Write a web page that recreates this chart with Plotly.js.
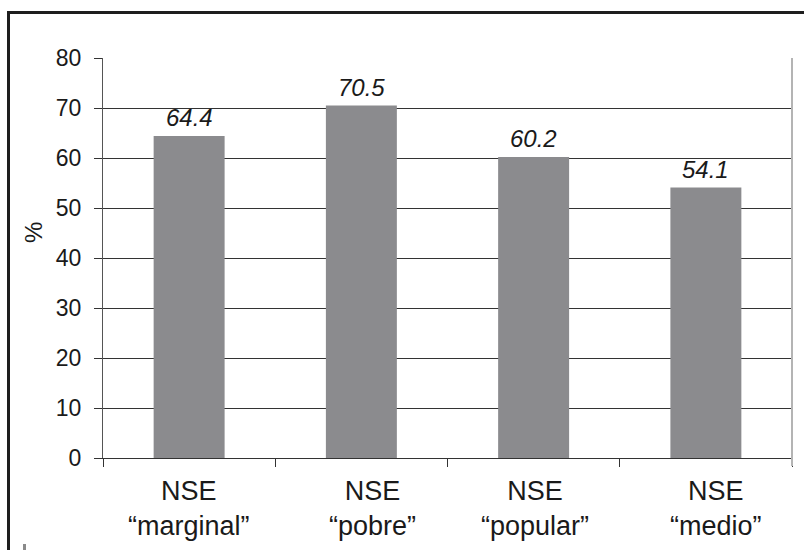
<!DOCTYPE html>
<html>
<head>
<meta charset="utf-8">
<script src="https://cdn.plot.ly/plotly-3.0.1.min.js"></script>
<style>
  html, body { margin: 0; padding: 0; background: #ffffff; }
  #wrap { position: relative; width: 804px; height: 550px; overflow: hidden; }
  #frame { position: absolute; left: 7px; top: 11px; width: 820px; height: 560px;
           border-left: 3px solid #1e1e1e; border-top: 3px solid #1e1e1e; box-sizing: border-box; }
  #mark { position: absolute; left: 23px; top: 544px; width: 3px; height: 6px; background: #8a8a8a; }
  #chart { position: absolute; left: 0; top: 0; width: 804px; height: 550px; }
</style>
</head>
<body>
<div id="wrap">
  <div id="chart"></div>
  <div id="frame"></div>
  <div id="mark"></div>
</div>
<script>
// Socioeconomic level groups and their percentages
const categories = ['marginal', 'pobre', 'popular', 'medio'];
const categoryLabels = ['NSE<br>“marginal”', 'NSE<br>“pobre”', 'NSE<br>“popular”', 'NSE<br>“medio”'];
const values = [64.4, 70.5, 60.2, 54.1];
const yTicks = [0, 10, 20, 30, 40, 50, 60, 70, 80];

// horizontal nudge of each category label, in pixels
const labelNudge = [0, 11, 1, 10];

const FONT = 'Liberation Sans, Arial, sans-serif';
const INK = '#1a1a1a';

const trace = {
  type: 'bar',
  x: categories,
  y: values,
  marker: { color: '#8b8b8e', line: { width: 0 } },
  hoverinfo: 'skip'
};

const annotations = [];
values.forEach((v, i) => {
  annotations.push({
    x: categories[i], y: v, xref: 'x', yref: 'y',
    text: v.toFixed(1), showarrow: false,
    xanchor: 'center', yanchor: 'bottom', yshift: 3,
    font: { family: FONT, size: 24, color: INK, style: 'italic' }
  });
  annotations.push({
    x: categories[i], y: 0, xref: 'x', yref: 'paper',
    text: categoryLabels[i], showarrow: false,
    xanchor: 'center', yanchor: 'top', yshift: -16, xshift: labelNudge[i],
    font: { family: FONT, size: 27, color: INK }
  });
});
annotations.push({
  x: -0.1016, y: 0.565, xref: 'paper', yref: 'paper',
  text: '%', showarrow: false, textangle: -90,
  xanchor: 'center', yanchor: 'middle',
  font: { family: FONT, size: 24, color: INK }
});

const layout = {
  width: 804, height: 550,
  margin: { l: 103, r: 12, t: 58, b: 92 },
  paper_bgcolor: '#ffffff', plot_bgcolor: '#ffffff',
  bargap: 0.588,
  showlegend: false,
  font: { family: FONT, color: INK },
  xaxis: {
    type: 'category',
    showticklabels: false,
    ticks: 'outside', tickson: 'boundaries', ticklen: 8, tickwidth: 1, tickcolor: '#333333',
    showgrid: false, zeroline: false,
    showline: true, linecolor: '#333333', linewidth: 1,
    fixedrange: true
  },
  yaxis: {
    range: [0, 80],
    tickvals: yTicks,
    ticktext: yTicks.map(String),
    ticks: 'outside', ticklen: 8, tickwidth: 1, tickcolor: '#333333',
    ticklabelstandoff: 8,
    tickfont: { family: FONT, size: 23, color: INK },
    showgrid: true, gridcolor: '#333333', gridwidth: 1,
    zeroline: false,
    showline: true, linecolor: '#555555', linewidth: 1,
    fixedrange: true
  },
  shapes: [
    { type: 'line', xref: 'paper', yref: 'paper', x0: 1, x1: 1, y0: 1, y1: -0.02,
      line: { color: '#b4b4b4', width: 2 } }
  ],
  annotations: annotations
};

Plotly.newPlot('chart', [trace], layout, { displayModeBar: false, staticPlot: true });
</script>
</body>
</html>
